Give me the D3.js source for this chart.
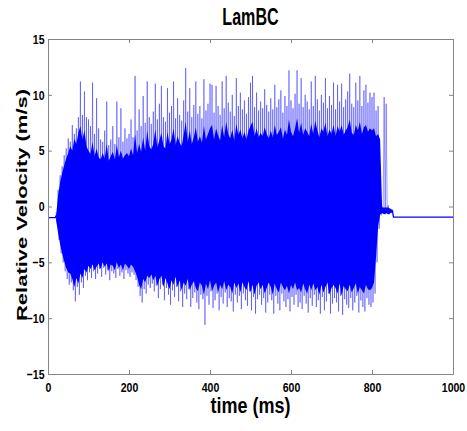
<!DOCTYPE html>
<html>
<head>
<meta charset="utf-8">
<script src="https://cdn.jsdelivr.net/npm/d3@7"></script>
<style>
  body { margin: 0; background: #fff; }
  svg { display: block; }
</style>
</head>
<body>
<div id="chart"></div>
<script>
// x ticks / y ticks
const xTicks = [0, 200, 400, 600, 800, 1000];
const yTicks = [-15, -10, -5, 0, 5, 10, 15];

// flat parts before and after the burst (ms, m/s)
const headT = [0, 18];
const headV = [-1, -1];
const tailT = [850, 853, 1000];
const tailV = [-0.3, -0.95, -0.95];

// time of each 5 ms bin
const binT = d3.range(20, 855, 5);

// edge of the dense (solid) band in each bin
const coreTop = [
  -0.8, 1.0, 2.2, 3.0, 3.7, 4.3,
  4.8, 5.4, 5.0, 6.1, 5.6, 6.6,
  7.2, 6.0, 6.8, 5.4, 5.0, 4.7,
  5.8, 4.5, 5.2, 4.4, 4.2, 4.8,
  4.3, 5.6, 4.1, 4.5, 4.9, 4.2,
  5.5, 4.4, 5.0, 4.3, 4.6, 4.8,
  4.5, 5.2, 4.6, 6.5, 4.8, 5.6,
  4.9, 6.2, 5.0, 6.8, 5.4, 5.1,
  5.6, 6.9, 5.3, 5.9, 6.6, 5.4,
  5.2, 6.7, 5.6, 6.0, 7.0, 5.5,
  6.3, 5.7, 5.4, 6.4, 7.6, 5.8,
  6.8, 5.6, 6.2, 7.1, 5.8, 6.3,
  5.7, 7.2, 6.0, 6.5, 7.0, 7.3,
  6.0, 7.0, 6.4, 5.9, 7.3, 6.2,
  7.6, 6.5, 6.1, 6.9, 5.9, 7.4,
  6.4, 6.9, 6.1, 6.7, 6.0, 6.8,
  7.2, 7.6, 6.3, 7.0, 6.2, 6.6,
  6.3, 7.1, 6.5, 6.1, 6.8, 6.2,
  7.3, 6.4, 6.7, 7.1, 6.1, 6.9,
  6.4, 7.8, 6.7, 6.3, 7.0, 7.9,
  6.6, 7.5, 6.4, 7.0, 6.7, 6.3,
  7.4, 6.5, 7.7, 6.8, 6.2, 7.0,
  6.7, 7.5, 6.3, 6.9, 6.5, 7.3,
  6.3, 7.2, 6.7, 7.3, 6.4, 6.8,
  7.1, 7.8, 6.6, 6.4, 7.3, 6.8,
  7.6, 6.5, 7.1, 7.3, 6.7, 7.0,
  6.8, 7.0, 6.3, 6.5, 6.0, -0.1,
  -0.1, -0.1, -0.1, -0.2, -0.3
];
const coreBot = [
  -1.2, -2.4, -3.4, -4.2, -4.9, -5.5,
  -5.9, -6.0, -6.5, -7.2, -6.4, -6.9,
  -6.0, -6.4, -5.6, -5.9, -5.3, -5.6,
  -5.2, -5.7, -5.4, -5.1, -5.6, -5.0,
  -5.4, -5.1, -5.8, -5.2, -5.3, -5.7,
  -5.0, -5.5, -5.2, -5.7, -5.1, -5.3,
  -5.6, -5.2, -5.4, -5.8, -6.3, -7.0,
  -7.4, -6.5, -6.8, -6.2, -6.4, -6.1,
  -6.6, -6.2, -7.1, -6.5, -6.2, -7.2,
  -6.4, -6.9, -7.4, -6.6, -7.0, -6.3,
  -7.2, -6.6, -7.5, -6.8, -7.1, -6.5,
  -7.5, -7.0, -6.7, -7.3, -7.6, -6.8,
  -7.1, -7.9, -6.9, -7.4, -6.6, -7.6,
  -7.1, -6.8, -7.7, -7.0, -7.4, -6.7,
  -7.5, -7.0, -7.2, -7.8, -6.8, -7.3,
  -6.9, -7.7, -6.8, -7.2, -7.5, -6.7,
  -7.7, -7.0, -7.9, -7.1, -6.8, -7.4,
  -7.0, -7.8, -7.3, -6.8, -7.2, -7.9,
  -6.9, -7.4, -7.7, -6.8, -7.2, -7.5,
  -7.1, -7.8, -7.0, -7.4, -6.8, -7.5,
  -7.3, -7.7, -6.9, -7.4, -7.8, -7.0,
  -7.5, -6.9, -7.5, -7.2, -7.9, -7.0,
  -7.7, -7.2, -6.8, -7.9, -7.3, -7.0,
  -7.3, -7.8, -6.9, -8.0, -7.1, -7.4,
  -7.6, -7.0, -7.7, -7.3, -6.9, -7.8,
  -7.2, -7.5, -7.8, -7.0, -7.4, -7.5,
  -7.3, -6.8, -4.5, -1.8, -0.7, -0.6,
  -0.7, -0.6, -0.7, -0.6, -0.5
];

// peak values per bin (thin spikes above / below the band)
const peakHigh = [
  -0.5, 1.5, 2.8, 3.6, 4.6, 5.2,
  6.1, 5.8, 7.3, 6.5, 7.0, 8.0,
  11.2, 8.2, 10.3, 8.0, 7.8, 7.2,
  11.1, 6.5, 9.7, 7.0, 6.0, 5.8,
  6.8, 9.4, 5.5, 6.0, 7.2, 5.6,
  9.4, 6.2, 8.8, 5.8, 7.0, 6.1,
  6.5, 7.8, 6.2, 11.7, 6.8, 8.7,
  7.2, 9.9, 7.5, 11.2, 8.0, 7.4,
  8.5, 11.0, 7.8, 9.2, 10.8, 8.0,
  7.6, 10.6, 8.4, 9.0, 11.2, 7.9,
  9.7, 8.2, 7.7, 9.5, 12.4, 8.5,
  10.6, 8.0, 9.1, 11.2, 8.3, 9.0,
  7.9, 11.4, 8.6, 9.2, 11.0, 10.9,
  8.4, 10.8, 9.0, 8.2, 11.2, 8.8,
  11.7, 9.3, 8.5, 10.0, 8.1, 11.5,
  9.0, 10.2, 8.7, 9.5, 8.3, 9.8,
  11.1, 11.7, 8.9, 10.2, 8.6, 9.4,
  8.8, 10.5, 9.1, 8.5, 9.7, 8.7,
  10.9, 8.9, 9.6, 10.4, 8.4, 9.9,
  9.0, 12.2, 9.5, 8.8, 10.1, 12.2,
  9.2, 11.5, 8.9, 10.0, 9.4, 8.7,
  11.2, 9.0, 11.7, 9.6, 8.6, 10.0,
  9.3, 11.5, 8.8, 9.9, 9.1, 11.1,
  8.7, 10.9, 9.4, 11.0, 8.9, 9.6,
  10.3, 11.9, 9.2, 8.9, 11.1, 9.5,
  11.7, 9.0, 10.4, 10.9, 9.3, 10.2,
  9.8, 10.2, 8.6, 9.0, 0.2, 0.0,
  9.8, 9.2, 0.1, -0.2, -0.3
];
const peakLow = [
  -1.5, -3.0, -4.2, -5.0, -5.8, -6.5,
  -7.0, -6.8, -7.5, -8.5, -7.2, -7.9,
  -6.8, -7.3, -6.2, -6.6, -5.9, -6.4,
  -5.8, -6.5, -6.0, -5.6, -6.3, -5.5,
  -6.1, -5.7, -6.6, -5.8, -6.0, -6.4,
  -5.6, -6.2, -5.9, -6.5, -5.7, -6.0,
  -6.3, -5.9, -6.1, -6.6, -7.2, -8.0,
  -8.6, -7.4, -7.8, -7.0, -7.3, -6.9,
  -7.6, -7.1, -8.2, -7.4, -7.0, -8.4,
  -7.3, -7.9, -8.8, -7.5, -8.1, -7.2,
  -8.5, -7.6, -9.0, -7.8, -8.3, -7.4,
  -9.0, -8.2, -7.7, -8.6, -9.2, -7.9,
  -8.3, -10.6, -8.0, -8.8, -7.6, -9.1,
  -8.4, -7.8, -9.3, -8.1, -8.7, -7.7,
  -9.0, -8.2, -8.5, -9.4, -7.9, -8.6,
  -8.0, -9.2, -7.8, -8.4, -8.9, -7.6,
  -9.3, -8.1, -9.6, -8.3, -7.9, -8.8,
  -8.2, -9.5, -8.6, -7.9, -8.4, -9.6,
  -8.0, -8.7, -9.3, -7.8, -8.5, -9.0,
  -8.3, -9.4, -8.1, -8.8, -7.9, -9.0,
  -8.6, -9.2, -8.0, -8.7, -9.5, -8.2,
  -8.9, -7.9, -9.0, -8.4, -9.6, -8.1,
  -9.3, -8.5, -7.8, -9.6, -8.7, -8.2,
  -8.6, -9.4, -8.0, -9.7, -8.3, -8.8,
  -9.1, -8.2, -9.3, -8.6, -8.0, -9.5,
  -8.4, -9.0, -9.4, -8.2, -8.8, -9.0,
  -8.6, -7.8, -5.0, -2.0, -0.8, -0.6,
  -0.7, -0.6, -0.7, -0.6, -0.5
];

const W = 467, H = 431;
const margin = { top: 39, right: 14, bottom: 57, left: 48 };
const width = W - margin.left - margin.right,
    height = H - margin.top - margin.bottom;
const blue = "#0000ff";
const axisGrey = "#858585";
const fontBold = "'Liberation Sans', Arial, Helvetica, sans-serif";

const svg = d3.select("#chart").append("svg")
    .attr("width", W)
    .attr("height", H);

const g = svg.append("g")
    .attr("transform", `translate(${margin.left},${margin.top})`);

const x = d3.scaleLinear().domain([0, 1000]).range([0, width]);
const y = d3.scaleLinear().domain([-15, 15]).range([height, 0]);

const line = d3.line()
    .x(d => x(d[0]))
    .y(d => y(d[1]));

// dense band
const core = d3.area()
    .x(d => x(d[0]))
    .y0(d => y(d[1]))
    .y1(d => y(d[2]));

g.append("path")
    .datum(binT.map((t, i) => [t, coreBot[i], coreTop[i]]))
    .attr("fill", blue)
    .attr("d", core);

// zig-zag through the peaks: up at t, down half a bin later
let swing = [];
binT.forEach((t, i) => {
    swing.push([t, peakHigh[i]]);
    swing.push([t + 2.5, peakLow[i]]);
});

g.append("path")
    .datum(swing)
    .attr("fill", "none")
    .attr("stroke", blue)
    .attr("stroke-width", 0.4)
    .attr("stroke-linejoin", "round")
    .attr("d", line);

g.append("path")
    .datum(headT.map((t, i) => [t, headV[i]]).concat([[binT[0], coreTop[0]]]))
    .attr("fill", "none")
    .attr("stroke", blue)
    .attr("stroke-width", 1.3)
    .attr("d", line);

g.append("path")
    .datum(tailT.map((t, i) => [t, tailV[i]]))
    .attr("fill", "none")
    .attr("stroke", blue)
    .attr("stroke-width", 1.3)
    .attr("d", line);

// axes, ticks pointing inwards like matlab
const sx = 0.78;
function styleAxis(sel) {
    sel.select(".domain").attr("stroke", axisGrey);
    sel.selectAll(".tick line").attr("stroke", axisGrey);
    sel.selectAll(".tick text")
        .attr("fill", "#000")
        .attr("font-family", fontBold)
        .attr("font-weight", "bold")
        .attr("font-size", 13.5);
}

g.append("g")
    .attr("transform", `translate(0,${height})`)
    .call(d3.axisBottom(x).tickValues(xTicks).tickSize(-4).tickSizeOuter(0)
        .tickPadding(8).tickFormat(d3.format("d")))
    .call(styleAxis)
    .call(a => a.selectAll(".tick text").attr("transform", `scale(${sx},1)`));

g.append("g")
    .call(d3.axisLeft(y).tickValues(yTicks).tickSize(-4).tickSizeOuter(0).tickPadding(3.5))
    .call(styleAxis)
    .call(a => a.selectAll(".tick text")
        .attr("x", -3.5 / sx)
        .attr("transform", `scale(${sx},1)`));

g.append("g")
    .call(d3.axisTop(x).tickValues(xTicks).tickSize(-4).tickSizeOuter(0).tickFormat(""))
    .call(styleAxis);

g.append("g")
    .attr("transform", `translate(${width},0)`)
    .call(d3.axisRight(y).tickValues(yTicks).tickSize(-4).tickSizeOuter(0).tickFormat(""))
    .call(styleAxis);

// texts
svg.append("text")
    .attr("transform", `translate(${margin.left + width / 2},25) scale(0.7,1)`)
    .attr("text-anchor", "middle")
    .attr("font-family", fontBold)
    .attr("font-weight", "bold")
    .attr("font-size", 23)
    .text("LamBC");

svg.append("text")
    .attr("transform", `translate(${margin.left + width / 2},413) scale(0.82,1)`)
    .attr("text-anchor", "middle")
    .attr("font-family", fontBold)
    .attr("font-weight", "bold")
    .attr("font-size", 22)
    .text("time (ms)");

svg.append("text")
    .attr("transform", `translate(27,205) rotate(-90) scale(1,0.7)`)
    .attr("text-anchor", "middle")
    .attr("font-family", fontBold)
    .attr("font-weight", "bold")
    .attr("font-size", 22)
    .text("Relative Velocity (m/s)");
</script>
</body>
</html>
